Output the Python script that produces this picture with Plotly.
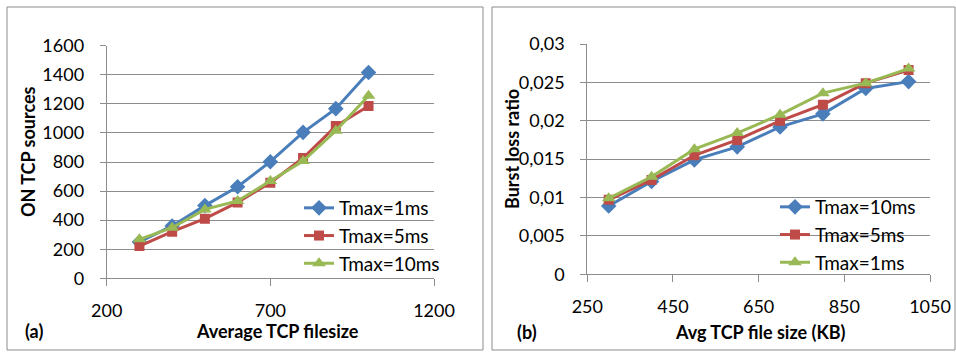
import plotly.graph_objects as go

# ---------------- data ----------------
x_a = [300, 400, 500, 600, 700, 800, 900, 1000]
a_1ms = [250, 360, 500, 630, 802, 1004, 1167, 1416]
a_5ms = [222, 321, 410, 522, 658, 827, 1047, 1185]
a_10ms = [268, 348, 474, 532, 669, 807, 1015, 1256]

x_b = [300, 400, 500, 600, 700, 800, 900, 1000]
b_10ms = [0.0089, 0.0121, 0.0149, 0.0166, 0.0192, 0.0209, 0.0242, 0.0251]
b_5ms = [0.0097, 0.0123, 0.0155, 0.0175, 0.0200, 0.0221, 0.0249, 0.0266]
b_1ms = [0.0099, 0.0127, 0.0163, 0.0184, 0.0208, 0.0236, 0.0249, 0.0268]

a_yticks = [0, 200, 400, 600, 800, 1000, 1200, 1400, 1600]
a_xticks = [200, 700, 1200]
b_yticks = [0, 0.005, 0.01, 0.015, 0.02, 0.025, 0.03]
b_yticktext = ["0", "0,005", "0,01", "0,015", "0,02", "0,025", "0,03"]
b_xticks = [250, 450, 650, 850, 1050]

names_a = ["Tmax=1ms", "Tmax=5ms", "Tmax=10ms"]
names_b = ["Tmax=10ms", "Tmax=5ms", "Tmax=1ms"]

# ---------------- style ----------------
W, H = 956, 352
FONT = "Lato"
FS = 18
LFS = 19
BLUE, RED, GREEN = "#4a7ebb", "#be4b48", "#98b954"
GRID = "#8c8c8c"

def px(x):
    return x / W

def py(y):
    return 1 - y / H

fig = go.Figure()

styles = [
    (BLUE, "diamond", 12),
    (RED, "square", 10),
    (GREEN, "triangle-up", 12),
]

for name, ys, (c, sym, sz) in zip(names_a, [a_1ms, a_5ms, a_10ms], styles):
    fig.add_trace(go.Scatter(
        x=x_a, y=ys, name=name, mode="lines+markers",
        line=dict(color=c, width=3),
        marker=dict(color=c, symbol=sym, size=sz),
        xaxis="x", yaxis="y", legend="legend",
    ))

for name, ys, (c, sym, sz) in zip(names_b, [b_10ms, b_5ms, b_1ms], styles):
    fig.add_trace(go.Scatter(
        x=x_b, y=ys, name=name, mode="lines+markers",
        line=dict(color=c, width=3),
        marker=dict(color=c, symbol=sym, size=sz),
        xaxis="x2", yaxis="y2", legend="legend2",
    ))

tickfont = dict(family=FONT, size=FS, color="#000")

common_x = dict(
    showgrid=False, showline=True, linecolor=GRID, linewidth=1,
    ticks="outside", ticklen=7, tickcolor=GRID, tickwidth=1,
    tickfont=tickfont, zeroline=False, ticklabelstandoff=9,
    automargin=False,
)
common_y = dict(
    showgrid=True, gridcolor=GRID, gridwidth=1,
    showline=True, linecolor=GRID, linewidth=1,
    ticks="outside", ticklen=6, tickcolor=GRID, tickwidth=1,
    tickfont=tickfont, zeroline=False, ticklabelstandoff=12,
    automargin=False,
)

fig.update_layout(
    template="none",
    width=W, height=H, autosize=False,
    margin=dict(l=0, r=0, t=0, b=0, pad=0),
    paper_bgcolor="white", plot_bgcolor="white",
    font=dict(family=FONT, size=FS, color="#000"),
    xaxis=dict(domain=[px(106.7), px(434)], range=[200, 1200],
               tickvals=a_xticks, anchor="y", **common_x),
    yaxis=dict(domain=[py(278.3), py(45.7)], range=[0, 1600],
               tickvals=a_yticks, anchor="x", **common_y),
    xaxis2=dict(domain=[px(587.3), px(930)], range=[250, 1050],
                tickvals=b_xticks, anchor="y2", **common_x),
    yaxis2=dict(domain=[py(274.3), py(44)], range=[0, 0.03],
                tickvals=b_yticks, ticktext=b_yticktext, anchor="x2", **common_y),
    legend=dict(x=px(299), y=py(189), xanchor="left", yanchor="top",
                bgcolor="rgba(0,0,0,0)", font=dict(family=FONT, size=LFS),
                itemwidth=30, tracegroupgap=0, borderwidth=0),
    legend2=dict(x=px(775), y=py(188), xanchor="left", yanchor="top",
                 bgcolor="rgba(0,0,0,0)", font=dict(family=FONT, size=LFS),
                 itemwidth=30, tracegroupgap=0, borderwidth=0),
    showlegend=True,
)

# panel frames
for x0, x1 in [(7, 483), (492, 955)]:
    fig.add_shape(type="rect", xref="paper", yref="paper",
                  x0=px(x0), x1=px(x1), y0=py(350), y1=py(7),
                  line=dict(color=GRID, width=1), layer="below")

bold = dict(family=FONT, size=FS, color="#000", weight="bold")
annots = [
    (28, 152, "ON TCP sources", -90),
    (277, 331, "Average TCP filesize", 0),
    (34, 331, "(a)", 0),
    (512, 149, "Burst loss ratio", -90),
    (760, 332, "Avg TCP file size (KB)", 0),
    (527, 332, "(b)", 0),
]
for x, y, t, ang in annots:
    fig.add_annotation(x=px(x), y=py(y), xref="paper", yref="paper",
                       text=t, showarrow=False, textangle=ang,
                       xanchor="center", yanchor="middle", font=bold)

fig.write_html("out.html")
